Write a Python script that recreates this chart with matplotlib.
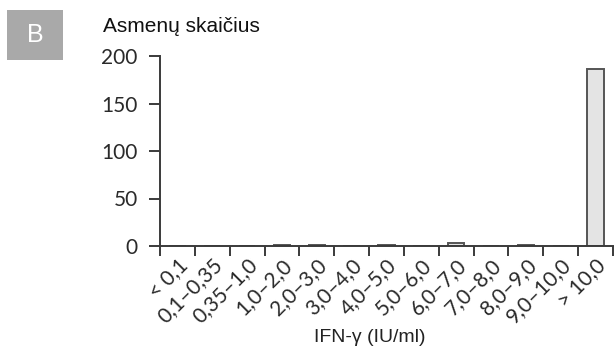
import matplotlib
matplotlib.use("Agg")
import matplotlib.pyplot as plt
from matplotlib.patches import Rectangle

categories = ["< 0,1", "0,1–0,35", "0,35–1,0", "1,0–2,0", "2,0–3,0", "3,0–4,0",
              "4,0–5,0", "5,0–6,0", "6,0–7,0", "7,0–8,0", "8,0–9,0", "9,0–10,0",
              "> 10,0"]
counts = [0, 0, 0, 1, 1, 0, 1, 0, 3, 0, 1, 0, 186]
y_ticks = [0, 50, 100, 150, 200]

W, H = 615, 352
fig = plt.figure(figsize=(W / 100, H / 100), dpi=100)
ax = fig.add_axes([160 / W, 1 - 246 / H, (613 - 160) / W, (246 - 56) / H])

axis_col = "#3a3a3a"
text_col = "#2a2a2a"
tick_font = "Lato"

x = list(range(len(categories)))
ax.bar(x, counts, width=0.47, color="#e4e4e4", edgecolor="#555555", linewidth=1.4)

ax.set_xlim(-0.5, len(categories) - 0.5)
ax.set_ylim(0, 200)

for s in ["top", "right"]:
    ax.spines[s].set_visible(False)
for s in ["left", "bottom"]:
    ax.spines[s].set_color(axis_col)
    ax.spines[s].set_linewidth(1.4)

ax.set_yticks(y_ticks)
ax.set_yticklabels([str(v) for v in y_ticks], fontfamily=tick_font, fontsize=15,
                   color=text_col)
ax.tick_params(axis="y", length=8, width=1.4, color=axis_col, pad=8)

# ticks sit on category boundaries, labels on category centres
ax.set_xticks([i - 0.5 for i in range(len(categories) + 1)])
ax.set_xticklabels([])
ax.tick_params(axis="x", length=7, width=1.4, color=axis_col)
for i, lab in enumerate(categories):
    ax.annotate(lab, xy=(i, 0), xycoords=("data", "axes fraction"),
                xytext=(5, -11.5), textcoords="offset points",
                rotation=45, ha="right", va="center", rotation_mode="anchor",
                fontfamily=tick_font, fontsize=15, color=text_col)

fig.text(370 / W, 1 - 338 / H, "IFN-γ (IU/ml)", ha="center", va="center",
         fontfamily="Liberation Sans", fontsize=14, color="#222222")
fig.text(103 / W, 1 - 27 / H, "Asmenų skaičius", ha="left", va="center",
         fontfamily="Liberation Sans", fontsize=15, color="#111111")

fig.patches.append(Rectangle((7 / W, 1 - 60 / H), 56 / W, 50 / H,
                             transform=fig.transFigure, facecolor="#a9a9a9",
                             edgecolor="none"))
fig.text(35 / W, 1 - 35 / H, "B", ha="center", va="center",
         fontfamily="Liberation Sans", fontsize=18, color="white")

fig.savefig("out.png", dpi=100)
